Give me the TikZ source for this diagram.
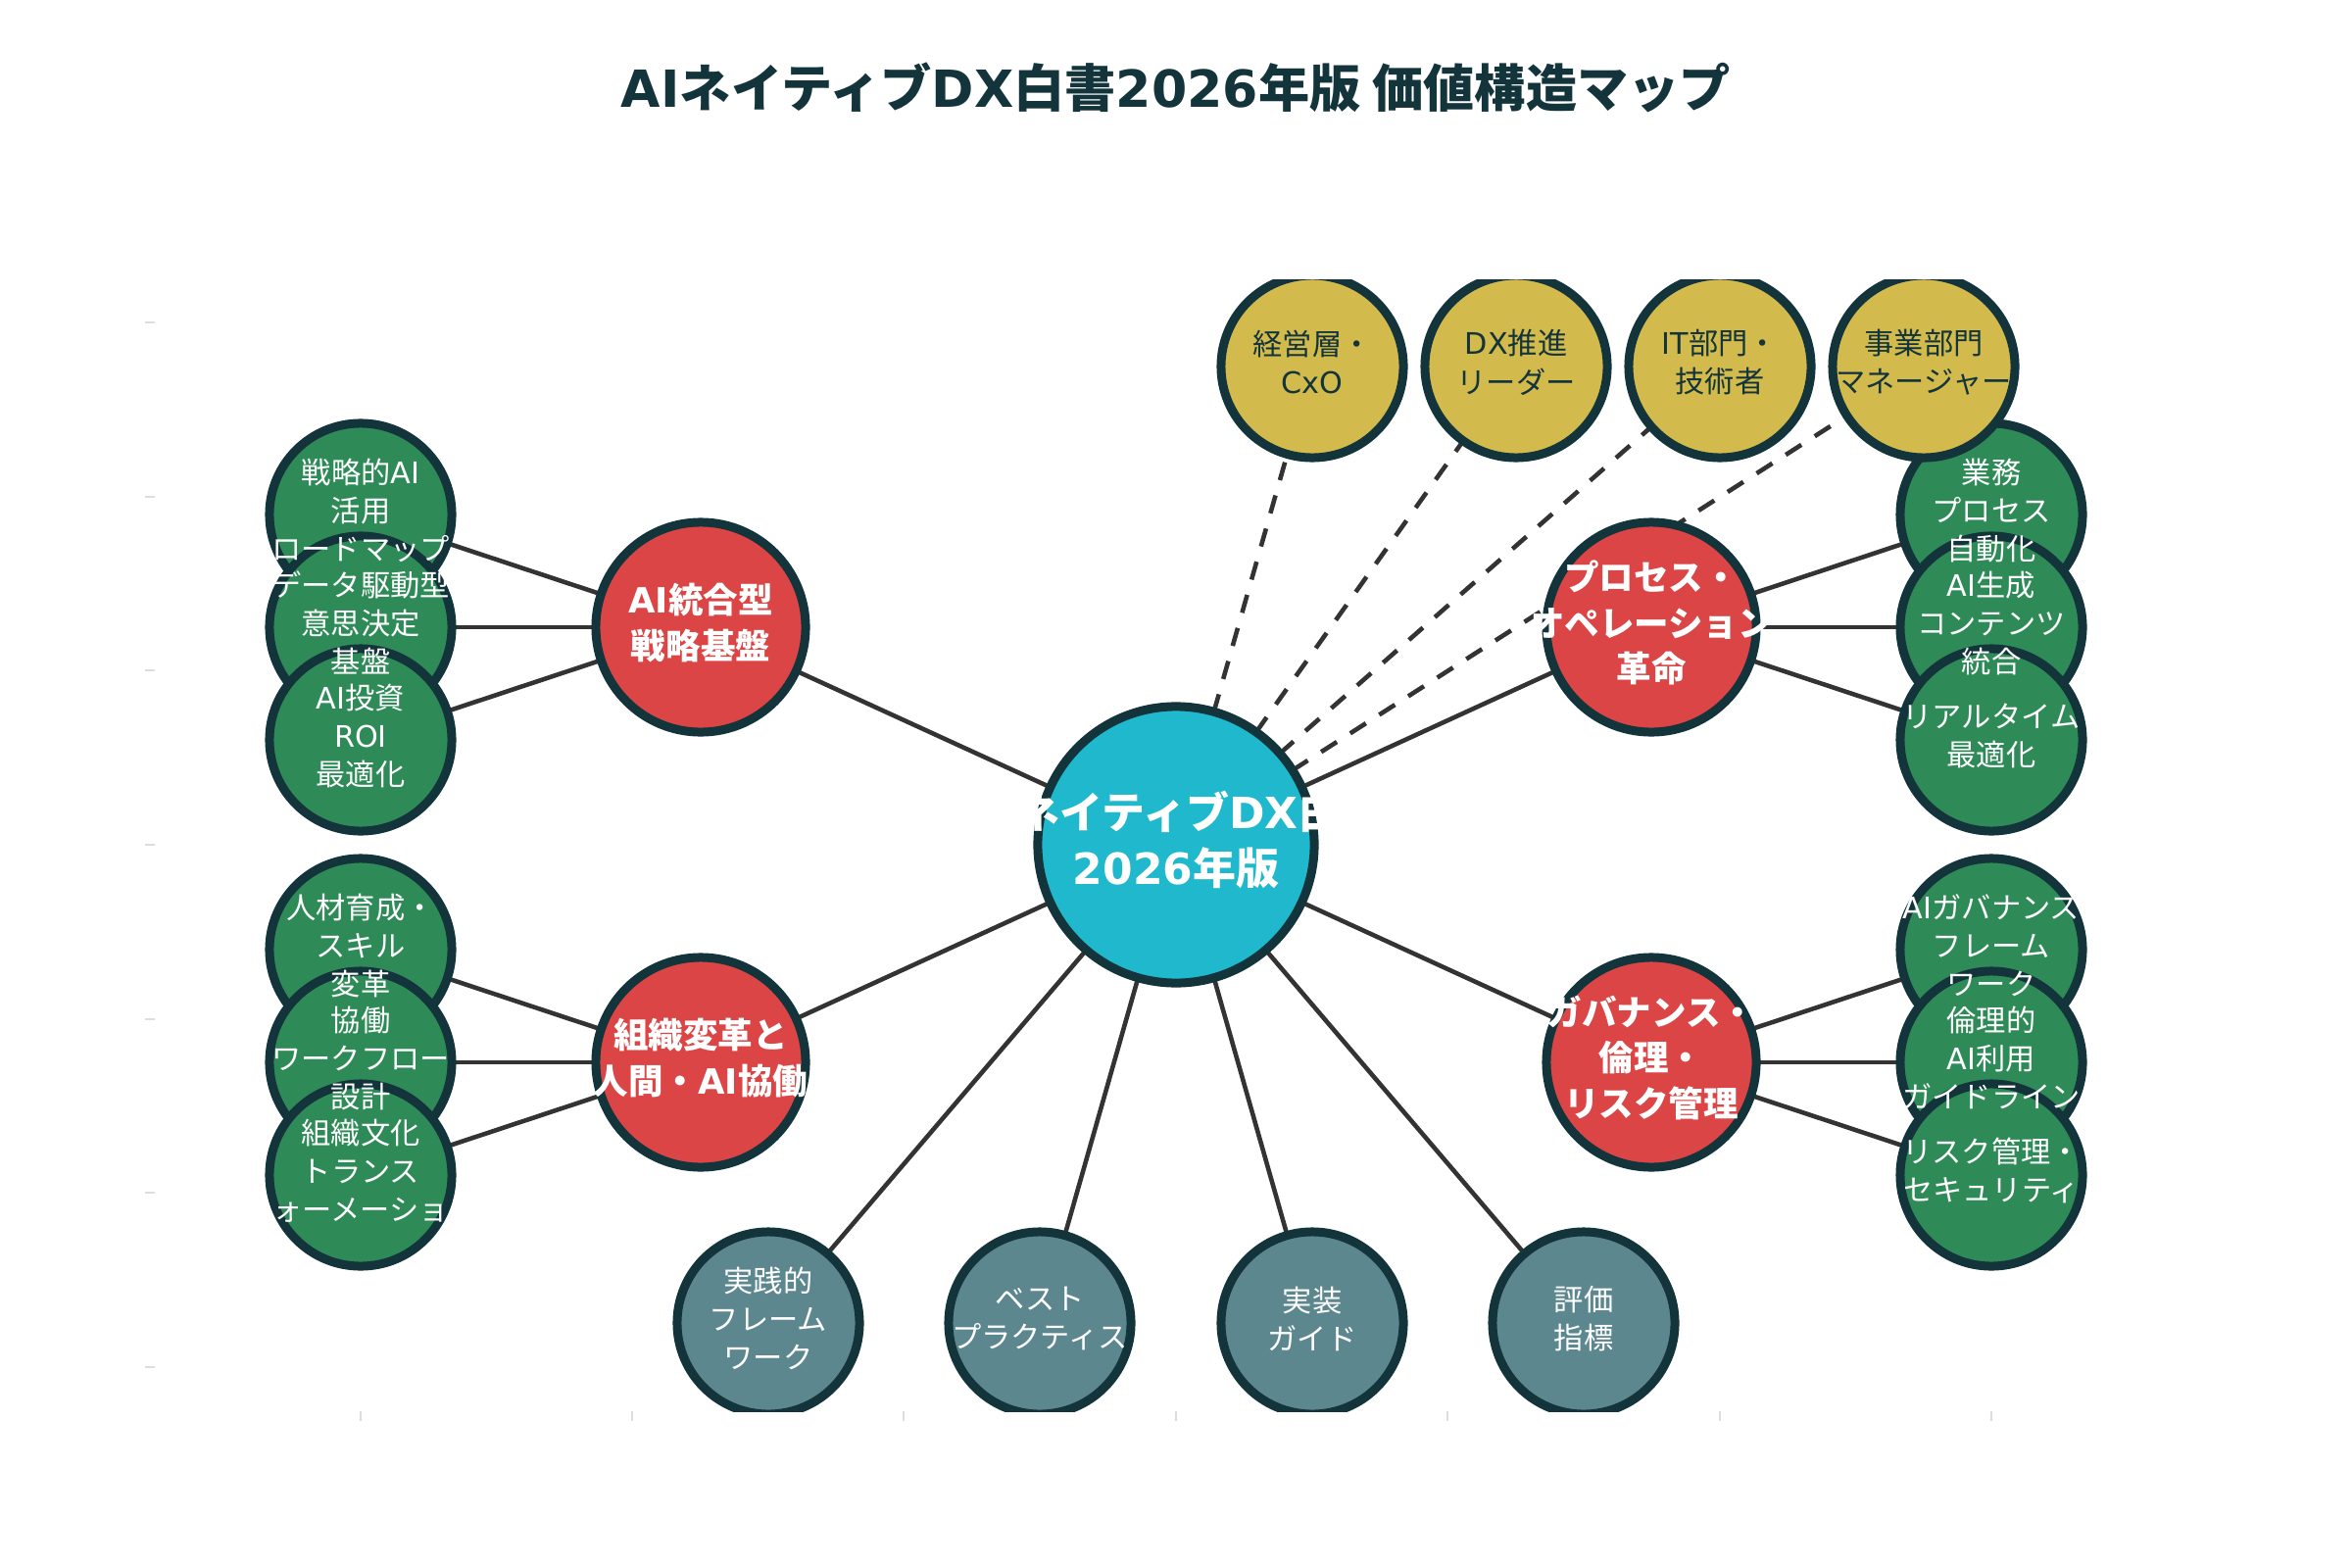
\documentclass[tikz,border=0pt]{standalone}
\usepackage{fontspec}
\setmainfont{Noto Sans CJK JP}
\newfontfamily\lat{DejaVu Sans}
\definecolor{cCen}{HTML}{1FB8CD}
\definecolor{cRed}{HTML}{DB4545}
\definecolor{cGrn}{HTML}{2E8B57}
\definecolor{cGry}{HTML}{5D878F}
\definecolor{cYel}{HTML}{D2BA4C}
\definecolor{cBrd}{HTML}{13343B}
\definecolor{cLin}{HTML}{333333}
\definecolor{cTick}{HTML}{DDDDDD}
\pgfdeclarelayer{edges}
\pgfsetlayers{edges,main}
\begin{document}
\begin{tikzpicture}[x=0.01cm,y=-0.01cm,
  bub/.style={circle,draw=cBrd,line width=2.56pt,inner sep=0pt,minimum size=1.86cm},
  hub/.style={bub,fill=cRed,minimum size=2.14cm},
  core/.style={bub,fill=cCen,minimum size=2.82cm},
  leaf/.style={bub,fill=cGrn},
  res/.style={bub,fill=cGry},
  aud/.style={bub,fill=cYel},
  lbls/.style={align=center,text=white,inner sep=0pt,yshift=1.2pt,font=\fontsize{8.6}{11.1}\selectfont},
  lbly/.style={lbls,text=cBrd},
  lblm/.style={align=center,text=white,inner sep=0pt,yshift=1.3pt,font=\bfseries\fontsize{10.1}{13.2}\selectfont},
  lblc/.style={align=center,text=white,inner sep=0pt,yshift=1.4pt,font=\bfseries\fontsize{12.5}{16.2}\selectfont},
  link/.style={draw=cLin,line width=1.3pt},
  dlink/.style={link,dash pattern=on 5.4pt off 4.6pt},
  tick/.style={draw=cTick,line width=0.6pt}
]
\useasboundingbox (0,0) rectangle (2400,1600);

% title
\node[text=cBrd,font=\bfseries\fontsize{14.85}{18}\selectfont] (title) at (1200,89)
  {{\lat AI}ネイティブ{\lat DX}白書{\lat 2026}年版 価値構造マップ};

% axis ticks
\foreach \yy in {329,507,684,862,1040,1217,1395} \draw[tick] (148,\yy) -- (158,\yy);
\foreach \xx in {368,645,922,1200,1477,1755,2032} \draw[tick] (\xx,1440) -- (\xx,1450);

\begin{scope}
\clip (158,285) rectangle (2245,1440);
% circles
\node[core] (c) at (1200,862) {};
\node[hub] (r1) at (715,640) {};
\node[hub] (r2) at (1685,640) {};
\node[hub] (r3) at (715,1084) {};
\node[hub] (r4) at (1685,1084) {};
\node[leaf] (a1) at (368,525) {};
\node[leaf] (a2) at (368,640) {};
\node[leaf] (a3) at (368,755) {};
\node[leaf] (b1) at (2032,525) {};
\node[leaf] (b2) at (2032,640) {};
\node[leaf] (b3) at (2032,755) {};
\node[leaf] (d1) at (368,969) {};
\node[leaf] (d2) at (368,1084) {};
\node[leaf] (d3) at (368,1199) {};
\node[leaf] (e1) at (2032,969) {};
\node[leaf] (e2) at (2032,1084) {};
\node[leaf] (e3) at (2032,1199) {};
\node[res] (p1) at (784,1350) {};
\node[res] (p2) at (1061,1350) {};
\node[res] (p3) at (1339,1350) {};
\node[res] (p4) at (1616,1350) {};
\node[aud] (y1) at (1339,374) {};
\node[aud] (y2) at (1547,374) {};
\node[aud] (y3) at (1755,374) {};
\node[aud] (y4) at (1963,374) {};
\end{scope}

% connectors (behind circles)
\begin{pgfonlayer}{edges}
\begin{scope}
\clip (158,285) rectangle (2245,1440);
\foreach \n in {r1,r2,r3,r4,p1,p2,p3,p4} \draw[link] (c.center) -- (\n.center);
\foreach \n in {a1,a2,a3} \draw[link] (r1.center) -- (\n.center);
\foreach \n in {b1,b2,b3} \draw[link] (r2.center) -- (\n.center);
\foreach \n in {d1,d2,d3} \draw[link] (r3.center) -- (\n.center);
\foreach \n in {e1,e2,e3} \draw[link] (r4.center) -- (\n.center);
\foreach \n in {y1,y2,y3,y4} \draw[dlink] (c.center) -- (\n.center);
\end{scope}
\end{pgfonlayer}

% labels (on top of all circles)
\node[lblc] (tc) at (c) {{\lat AI}ネイティブ{\lat DX}白書\\{\lat 2026}年版};
\node[lblm] (t1) at (r1) {{\lat AI}統合型\\戦略基盤};
\node[lblm] (t2) at (r2) {プロセス・\\オペレーション\\革命};
\node[lblm] (t3) at (r3) {組織変革と\\人間・{\lat AI}協働};
\node[lblm] (t4) at (r4) {ガバナンス・\\倫理・\\リスク管理};

\node[lbls] (ta1) at (a1) {戦略的{\lat AI}\\活用\\ロードマップ};
\node[lbls] (ta2) at (a2) {データ駆動型\\意思決定\\基盤};
\node[lbls] (ta3) at (a3) {{\lat AI}投資\\{\lat ROI}\\最適化};
\node[lbls] (tb1) at (b1) {業務\\プロセス\\自動化};
\node[lbls] (tb2) at (b2) {{\lat AI}生成\\コンテンツ\\統合};
\node[lbls] (tb3) at (b3) {リアルタイム\\最適化};
\node[lbls] (td1) at (d1) {人材育成・\\スキル\\変革};
\node[lbls] (td2) at (d2) {協働\\ワークフロー\\設計};
\node[lbls] (td3) at (d3) {組織文化\\トランス\\フォーメーション};
\node[lbls] (te1) at (e1) {{\lat AI}ガバナンス\\フレーム\\ワーク};
\node[lbls] (te2) at (e2) {倫理的\\{\lat AI}利用\\ガイドライン};
\node[lbls] (te3) at (e3) {リスク管理・\\セキュリティ};
\node[lbls] (tp1) at (p1) {実践的\\フレーム\\ワーク};
\node[lbls] (tp2) at (p2) {ベスト\\プラクティス};
\node[lbls] (tp3) at (p3) {実装\\ガイド};
\node[lbls] (tp4) at (p4) {評価\\指標};
\node[lbly] (ty1) at (y1) {経営層・\\{\lat CxO}};
\node[lbly] (ty2) at (y2) {{\lat DX}推進\\リーダー};
\node[lbly] (ty3) at (y3) {{\lat IT}部門・\\技術者};
\node[lbly] (ty4) at (y4) {事業部門\\マネージャー};
\end{tikzpicture}
\end{document}
